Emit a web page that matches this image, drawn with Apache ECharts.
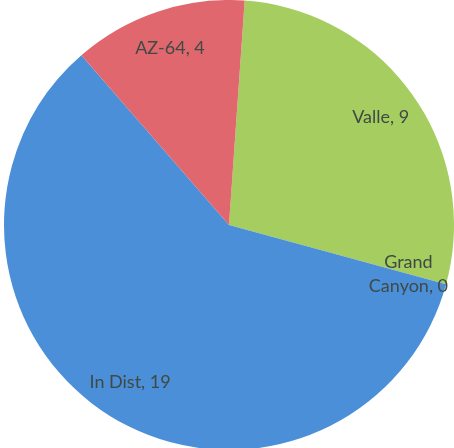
<!DOCTYPE html>
<html>
<head>
<meta charset="utf-8">
<script src="https://cdn.jsdelivr.net/npm/echarts@6/dist/echarts.min.js"></script>
<style>html,body{margin:0;padding:0;background:#fff}#c{width:454px;height:448px}</style>
</head>
<body>
<div id="c"></div>
<script>
const categories = ['Valle', 'Grand\nCanyon', 'In Dist', 'AZ-64'];
const values = [9, 0, 19, 4];
const colors = ['#a6cd5f', '#a6cd5f', '#4a8fd8', '#e0676d'];

const data = categories.map((n, i) => ({ name: n, value: values[i], itemStyle: { color: colors[i] } }));
const chart = echarts.init(document.getElementById('c'));
chart.setOption({
  backgroundColor: '#fff',
  animation: false,
  series: [
    {
      type: 'pie',
      center: [229, 225],
      radius: [0, 225],
      startAngle: 86,
      clockwise: true,
      silent: true,
      data: data,
      label: { show: false },
      labelLine: { show: false },
      itemStyle: { borderWidth: 0 }
    },
    {
      type: 'pie',
      center: [229, 225],
      radius: [0, 366],
      startAngle: 86,
      clockwise: true,
      silent: true,
      data: data.map(d => ({ name: d.name, value: d.value, itemStyle: { color: 'rgba(0,0,0,0)' } })),
      label: {
        show: true,
        position: 'inside',
        formatter: p => p.name + ', ' + p.value,
        fontFamily: 'Lato',
        fontSize: 18,
        color: '#3f4a44',
        align: 'center',
        lineHeight: 24
      },
      labelLine: { show: false },
      itemStyle: { borderWidth: 0 }
    }
  ]
});
</script>
</body>
</html>
